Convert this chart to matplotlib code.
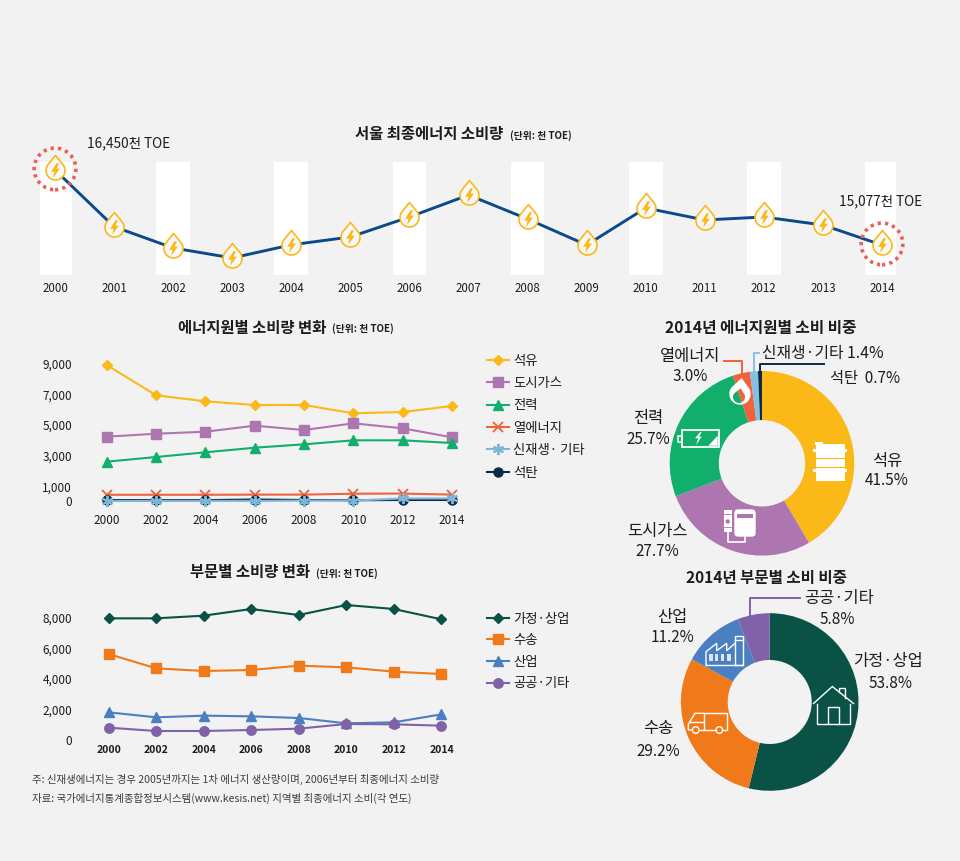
# -*- coding: utf-8 -*-
# Seoul final energy consumption infographic
import numpy as np
import matplotlib
matplotlib.use('Agg')
import matplotlib.pyplot as plt
from matplotlib.path import Path
from matplotlib.patches import Rectangle, Circle, Polygon, FancyBboxPatch, PathPatch

plt.rcParams['font.family'] = ['Noto Sans CJK KR', 'DejaVu Sans']
plt.rcParams['axes.unicode_minus'] = False

W, H = 960, 861
BG = '#f2f2f2'
INK = '#1c1c1c'

## Data
# Total consumption
totalYears = list(range(2000, 2015))
totalValues = [16450, 15412, 15023, 14840, 15080, 15224, 15590, 15992, 15553, 15077, 15755, 15535, 15590, 15443, 15077]
barYears = [2000, 2002, 2004, 2006, 2008, 2010, 2012, 2014]

# By energy source
years = [2000, 2002, 2004, 2006, 2008, 2010, 2012, 2014]
oil = [8933, 6950, 6557, 6315, 6315, 5772, 5857, 6250]
gas = [4243, 4437, 4568, 4961, 4679, 5118, 4790, 4201]
power = [2605, 2912, 3220, 3521, 3743, 4005, 4005, 3829]
heat = [440, 440, 440, 450, 450, 510, 520, 450]
renew = [30, 40, 40, 40, 60, 60, 200, 200]
coal = [90, 90, 90, 130, 100, 80, 100, 100]
sourceTicks = [0, 1000, 3000, 5000, 7000, 9000]

# By sector
homeShop = [7978, 7978, 8153, 8590, 8197, 8852, 8590, 7913]
transport = [5639, 4699, 4525, 4590, 4874, 4765, 4481, 4328]
industry = [1814, 1486, 1596, 1552, 1443, 1093, 1158, 1683]
public = [809, 590, 590, 656, 743, 1049, 1027, 940]
sectorTicks = [0, 2000, 4000, 6000, 8000]

# 2014 shares
sourceShare = [41.5, 27.7, 25.7, 3.0, 1.4, 0.7]
sourceShareColors = ['#fbb917', '#ae76b0', '#12ae6b', '#f0623c', '#85c1de', '#0a2a47']
sectorShare = [53.8, 29.2, 11.2, 5.8]
sectorShareColors = ['#0b5246', '#f07a1a', '#4a7fc1', '#7f62a8']


fig = plt.figure(figsize=(W / 100, H / 100), dpi=100, facecolor=BG)


def place(left, top, right, bottom):
    ax = fig.add_axes([left / W, 1 - bottom / H, (right - left) / W, (bottom - top) / H])
    ax.patch.set_alpha(0)
    for s in ax.spines.values():
        s.set_visible(False)
    return ax


def lims(edge0, edge1, p0, p1, v0, v1):
    # axis limits so that value v0 lands on pixel p0 and v1 on p1
    k = (v1 - v0) / (p1 - p0)
    return v0 + (edge0 - p0) * k, v0 + (edge1 - p0) * k


def drop_pts(cx, cy, rad, tipx, tipy, sign=1):
    # teardrop outline, used for the markers and the flame icon
    t = np.radians(np.linspace(39.3, -219.3, 40))
    pts = np.column_stack([cx + rad * np.cos(t), cy + sign * rad * np.sin(t)])
    return np.vstack([[tipx, tipy], pts, [tipx, tipy]])


## Top chart
ax = place(40, 162, 896, 275)
ax.set_xlim(*lims(40, 896, 55, 882, 2000, 2014))
ax.set_ylim(*lims(275, 162, 245, 170, 15077, 16450))
ax.bar(barYears, [20000] * len(barYears), width=0.57, color='white', zorder=1)
ax.plot(totalYears, totalValues, color='#0b4a8a', lw=2.1, zorder=2, clip_on=False)

dropMarker = Path(drop_pts(0, 0, 9.5, 0, 15), closed=True)
boltMarker = Path([(1.0, 7), (-4.2, -1.2), (-1.0, -1.2), (-2.2, -7), (4.2, 1.8), (1.0, 1.8), (3.2, 7), (1.0, 7)], closed=True)
ax.plot(totalYears, totalValues, ls='none', marker=dropMarker, ms=21.6, mfc='#f8f8f8', mec='#fbb917', mew=1.2,
        zorder=3, clip_on=False)
ax.plot(totalYears, totalValues, ls='none', marker=boltMarker, ms=10.5, mfc='#fbb917', mec='none', zorder=4, clip_on=False)
ax.scatter([totalYears[0], totalYears[-1]], [totalValues[0] + 20, totalValues[-1] + 20], s=30 ** 2, facecolors='none',
           edgecolors='#e8605a', linewidths=2.6, linestyles=(0, (0.9, 1.15)), zorder=5, clip_on=False)
ax.set_yticks([])
ax.set_xticks(totalYears)
ax.set_xticklabels([str(y) for y in totalYears], fontsize=8.3, color=INK)
ax.tick_params(axis='x', length=0, pad=5)

## Energy source lines
ax2 = place(90, 355, 470, 510)
ax2.set_xlim(*lims(90, 470, 106.8, 452, 2000, 2014))
ax2.set_ylim(*lims(510, 355, 501.5, 364, 0, 9000))
lw = 1.5
h1, = ax2.plot(years, oil, color=sourceShareColors[0], lw=lw, marker='D', ms=5, clip_on=False, label='석유')
h2, = ax2.plot(years, gas, color=sourceShareColors[1], lw=lw, marker='s', ms=7.5, clip_on=False, label='도시가스')
h3, = ax2.plot(years, power, color=sourceShareColors[2], lw=lw, marker='^', ms=6.5, clip_on=False, label='전력')
h4, = ax2.plot(years, heat, color=sourceShareColors[3], lw=lw, marker='x', ms=7, mew=1.3, clip_on=False, label='열에너지')
h6, = ax2.plot(years, coal, color=sourceShareColors[5], lw=lw, marker='o', ms=6.5, clip_on=False, label='석탄')
h5, = ax2.plot(years, renew, color='#7fb6d6', lw=lw, marker=(6, 2, 0), ms=8, mew=1.4, clip_on=False, label='신재생· 기타')
ax2.set_xticks(years)
ax2.set_yticks(sourceTicks)
ax2.set_yticklabels([f'{v:,}' for v in sourceTicks], fontsize=8.5, color=INK)
ax2.set_xticklabels([str(y) for y in years], fontsize=8.5, color=INK)
ax2.tick_params(axis='both', length=0)
ax2.tick_params(axis='y', pad=13)
ax2.tick_params(axis='x', pad=3)
fig.legend(handles=[h1, h2, h3, h4, h5, h6], loc='upper left', bbox_to_anchor=(487 / W, 1 - 353.5 / H), frameon=False,
           fontsize=9.6, borderpad=0, borderaxespad=0, handlelength=1.65, handletextpad=0.3, labelspacing=0.63,
           labelcolor=INK)

## Sector lines
ax3 = place(90, 600, 470, 745)
ax3.set_xlim(*lims(90, 470, 108.6, 441.4, 2000, 2014))
ax3.set_ylim(*lims(745, 600, 740, 618, 0, 8000))
g1, = ax3.plot(years, homeShop, color=sectorShareColors[0], lw=lw, marker='D', ms=4.6, clip_on=False, label='가정·상업')
g2, = ax3.plot(years, transport, color=sectorShareColors[1], lw=lw, marker='s', ms=7.5, clip_on=False, label='수송')
g3, = ax3.plot(years, industry, color=sectorShareColors[2], lw=lw, marker='^', ms=6.5, clip_on=False, label='산업')
g4, = ax3.plot(years, public, color=sectorShareColors[3], lw=lw, marker='o', ms=6.8, clip_on=False, label='공공·기타')
ax3.set_xticks(years)
ax3.set_yticks(sectorTicks)
ax3.set_yticklabels([f'{v:,}' for v in sectorTicks], fontsize=8.5, color=INK)
ax3.set_xticklabels([str(y) for y in years], fontsize=7.5, color=INK, fontweight='bold')
ax3.tick_params(axis='both', length=0)
ax3.tick_params(axis='y', pad=13)
ax3.tick_params(axis='x', pad=0)
fig.legend(handles=[g1, g2, g3, g4], loc='upper left', bbox_to_anchor=(487 / W, 1 - 611.5 / H), frameon=False,
           fontsize=9.6, borderpad=0, borderaxespad=0, handlelength=1.65, handletextpad=0.3, labelspacing=0.57,
           labelcolor=INK)

## Donuts
axP1 = place(762 - 94, 463.3 - 94, 762 + 94, 463.3 + 94)
axP1.pie(sourceShare, colors=sourceShareColors, startangle=90, counterclock=False, radius=92.3 / 94,
         wedgeprops=dict(width=49.1 / 94))
axP1.set_xlim(-1, 1)
axP1.set_ylim(-1, 1)

axP2 = place(769.7 - 91, 702 - 91, 769.7 + 91, 702 + 91)
axP2.pie(sectorShare, colors=sectorShareColors, startangle=90, counterclock=False, radius=88.8 / 91,
         wedgeprops=dict(width=46.8 / 91))
axP2.set_xlim(-1, 1)
axP2.set_ylim(-1, 1)

## Overlay in pixel units for titles, labels, leaders and icons
ov = fig.add_axes([0, 0, 1, 1], zorder=10)
ov.set_xlim(0, W)
ov.set_ylim(H, 0)
ov.set_axis_off()


def txt(x, y, s, size=11, ha='center', weight='normal', color=INK):
    ov.text(x, y + 1.5, s, fontsize=size, ha=ha, va='center', fontweight=weight, color=color)


txt(429, 133, '서울 최종에너지 소비량', 11.1, weight='bold')
txt(510, 134.5, '(단위: 천 TOE)', 7, ha='left', weight='bold')
txt(252.5, 326, '에너지원별 소비량 변화', 11.1, weight='bold')
txt(332, 327.5, '(단위: 천 TOE)', 7, ha='left', weight='bold')
txt(761, 326.5, '2014년 에너지원별 소비 비중', 11.3, weight='bold')
txt(250, 571, '부문별 소비량 변화', 11.1, weight='bold')
txt(316, 572.5, '(단위: 천 TOE)', 7, ha='left', weight='bold')
txt(766, 577, '2014년 부문별 소비 비중', 11.2, weight='bold')

txt(129, 142, '16,450천 TOE', 9.8)
txt(881, 200, '15,077천 TOE', 9.8)

# donut labels
txt(690, 355, '열에너지', 11.8)
txt(690, 375, '3.0%')
txt(761.5, 352, '신재생·기타 1.4%', 11.4, ha='left')
txt(830.5, 377, '석탄  0.7%', ha='left')
txt(648, 417, '전력', 11.8)
txt(648, 438, '25.7%')
txt(887, 460, '석유', 11.8)
txt(887, 479, '41.5%')
txt(657, 530, '도시가스', 11.8)
txt(657, 550, '27.7%')

txt(839, 596.5, '공공·기타', 11.8)
txt(837, 618, '5.8%')
txt(672.5, 616, '산업', 11.8)
txt(672, 636, '11.2%')
txt(888, 660, '가정·상업', 11.8)
txt(890.5, 681.5, '53.8%')
txt(658, 727.5, '수송', 11.8)
txt(658, 750, '29.2%')

txt(32, 778, '주: 신재생에너지는 경우 2005년까지는 1차 에너지 생산량이며, 2006년부터 최종에너지 소비량', 7.55, ha='left', color='#3c3c3c')
txt(32, 796.5, '자료: 국가에너지통계종합정보시스템(www.kesis.net) 지역별 최종에너지 소비(각 연도)', 7.55, ha='left', color='#3c3c3c')

# leaders
ov.plot([724, 741.5, 741.5], [360.5, 360.5, 375], color=sourceShareColors[3], lw=1.4)
ov.plot([758.5, 753.5, 753.5], [352.5, 352.5, 372], color=sourceShareColors[4], lw=1.4)
ov.plot([824, 759.5, 759.5], [363.5, 363.5, 372], color=sourceShareColors[5], lw=1.4)
ov.plot([800, 749.5, 749.5], [597.5, 597.5, 615], color=sectorShareColors[3], lw=1.4)

# oil barrel
ov.add_patch(Rectangle((815.7, 444), 29.3, 36.5, fc='white', ec='none'))
ov.add_patch(Rectangle((815, 441.5), 8, 3, fc='white', ec='none'))
for yy in [449, 468.5]:
    ov.add_patch(Rectangle((813, yy), 34, 3.2, fc='white', ec='none'))
for yy in [458.3, 466.5]:
    ov.plot([816, 845], [yy, yy], color=sourceShareColors[0], lw=0.8)

# gas meter
ov.add_patch(FancyBboxPatch((734.3, 509.3), 21.4, 27.4, boxstyle='round,pad=0,rounding_size=4', fc='white', ec='none'))
ov.add_patch(Rectangle((736.7, 514), 16.6, 4.3, fc=sourceShareColors[1], ec='none'))
ov.add_patch(Rectangle((724, 510), 7.7, 22, fc='white', ec='none'))
ov.add_patch(Circle((727.7, 521.5), 2.2, fc=sourceShareColors[1], ec='none'))
for yy in [514, 527]:
    ov.plot([724, 731.7], [yy, yy], color=sourceShareColors[1], lw=0.6)
ov.plot([727.7, 727.7, 745, 745], [531.7, 541.7, 541.7, 536.7], color='white', lw=1.2)

# battery
ov.add_patch(Rectangle((681.7, 430), 37.6, 17.3, fc='none', ec='white', lw=1.3))
ov.add_patch(Rectangle((678, 435.7), 3.7, 6.6, fc='none', ec='white', lw=1.1))
ov.add_patch(Polygon([(717.7, 435.7), (708.3, 445.7), (717.7, 445.7)], fc='white', ec='none'))
ov.add_patch(Polygon([(700, 432.3), (695, 438.3), (698.3, 438.3), (696, 445), (701.7, 436.7), (699, 436.7), (701.7, 432.3)],
                     fc='white', ec='none'))

# flame, the hole shows the wedges underneath
outer = drop_pts(740, 394, 10.7, 741.7, 378, sign=-1)
inner = drop_pts(739, 397, 6, 740.7, 388.3, sign=-1)[::-1]
flame = Path.make_compound_path(Path(outer, closed=True), Path(inner, closed=True))
ov.add_patch(PathPatch(flame, fc='white', ec='none'))

# house
line = dict(color='white', lw=1.0, solid_joinstyle='miter')
ov.plot([813.5, 832.3, 853.5], [703.5, 686.5, 703.5], **line)
ov.plot([816.5, 816.5, 849.5, 849.5], [704, 724, 724, 704], **line)
ov.plot([827.5, 827.5, 838.5, 838.5], [724, 707, 707, 724], **line)
ov.plot([839, 839, 844.5, 844.5], [692, 687.5, 687.5, 698], **line)

# truck
ov.plot([704, 704, 727.3, 727.3, 722.7], [730, 713.3, 713.3, 730, 730], **line)
ov.plot([704, 695, 688.3, 688.3, 692.4], [713.3, 713.3, 724.3, 730, 730], **line)
ov.plot([690, 704], [721.7, 721.7], **line)
ov.plot([699, 716], [730, 730], **line)
ov.add_patch(Circle((695.7, 730), 3.3, fc='none', ec='white', lw=1.0))
ov.add_patch(Circle((719.3, 730), 3.3, fc='none', ec='white', lw=1.0))

# factory
ov.plot([706, 706, 716.7, 716.7, 726.7, 726.7, 735],
        [665, 651.7, 643.3, 650.7, 643.3, 650.7, 643.3], **line)
ov.plot([735, 735, 742.7, 742.7, 735], [665, 636, 636, 665, 665], **line)
ov.plot([735, 742.7], [640, 640], **line)
ov.plot([706, 742.7], [665, 665], **line)
for xx in [711, 716.7, 722.7, 729]:
    ov.add_patch(Rectangle((xx - 1.6, 654.3), 3.3, 6.4, fc='#dbe6f4', ec='none'))

fig.savefig('out.png', dpi=100, facecolor=BG)
